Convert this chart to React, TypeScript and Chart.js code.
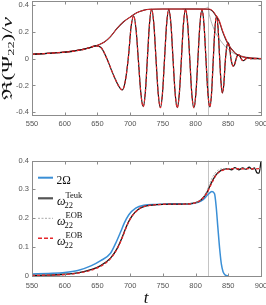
import React, { useEffect, useRef } from "react";
import { Chart, registerables } from "chart.js";
Chart.register(...registerables);

// ---------- axes ----------
const X_MIN = 550;
const X_MAX = 900;
const xTicks = [550, 600, 650, 700, 750, 800, 850, 900];
const yTicksTop = [-0.4, -0.2, 0, 0.2, 0.4];
const yTicksBottom = [0, 0.1, 0.2, 0.3, 0.4];
const tMerger = 819;

// ---------- top panel: Re(Psi22)/nu ----------
const waveT = [
  550, 570, 590, 610, 625, 637, 647, 655, 664.5, 671,
  677, 682.5, 688, 692.5, 697.5, 701.5, 705.4, 709, 712.7, 716.4,
  720, 723.2, 726.4, 729.6, 732.8, 736.2, 739.5, 742.9, 746.2, 749.4,
  752.6, 755.8, 759, 762.3, 765.5, 768.8, 772, 775.2, 778.4, 781.5,
  784.7, 787.9, 791.1, 794.2, 797.4, 800.5, 803.6, 806.7, 809.8, 812.8,
  815.8, 818.8, 821.8, 824.4, 826.9, 829.5, 832, 834.3, 836.5, 838.8,
  841, 843.2, 845.4, 847.6, 849.8, 851.8, 853.8, 855.8, 857.8, 859.7,
  861.7, 863.6, 865.5, 867.4, 869.3, 871.1, 873, 874.8, 876.5, 878.3,
  880, 885, 890, 900,
];
const waveRe = [
  0.033, 0.038, 0.044, 0.053, 0.065, 0.08, 0.095, 0.085, 0.0, -0.08,
  -0.15, -0.205, -0.233, -0.17, 0.02, 0.24, 0.318, 0.219, -0.02, -0.259,
  -0.358, -0.252, 0.005, 0.261, 0.367, 0.26, 0.0, -0.26, -0.366, -0.26,
  0.001, 0.261, 0.368, 0.261, 0.001, -0.259, -0.366, -0.259, 0.001, 0.261,
  0.368, 0.261, 0.001, -0.259, -0.366, -0.259, 0.0, 0.259, 0.366, 0.26,
  0.003, -0.254, -0.36, -0.261, -0.021, 0.219, 0.318, 0.234, 0.032, -0.171,
  -0.255, -0.19, -0.02, 0.085, 0.118, 0.09, 0.01, -0.04, -0.056, -0.042,
  -0.008, 0.022, 0.03, 0.022, 0.004, -0.011, -0.015, -0.011, -0.002, 0.005,
  0.007, 0.0, 0.001, 0.0,
];
const ampT = [550, 600, 630, 650, 660, 670, 680, 690, 700, 710, 720, 730, 750, 800, 820, 826, 831, 836, 841, 846, 851, 856, 861, 868, 877, 890, 900];
const ampTeuk = [0.033, 0.05, 0.072, 0.1, 0.122, 0.165, 0.226, 0.275, 0.31, 0.342, 0.36, 0.368, 0.37, 0.37, 0.369, 0.355, 0.32, 0.28, 0.205, 0.145, 0.098, 0.065, 0.04, 0.02, 0.009, 0.003, 0.001];
const ampEob = [0.033, 0.05, 0.072, 0.1, 0.122, 0.165, 0.226, 0.275, 0.31, 0.342, 0.36, 0.368, 0.37, 0.37, 0.37, 0.358, 0.325, 0.288, 0.213, 0.152, 0.1, 0.066, 0.04, 0.02, 0.009, 0.003, 0.001];
const ampGrayT = [780, 800, 812, 817, 819, 821, 825, 831, 836, 841, 846, 851, 858, 866, 880, 900];
const ampGray = [0.37, 0.37, 0.372, 0.378, 0.385, 0.33, 0.26, 0.19, 0.15, 0.116, 0.087, 0.064, 0.04, 0.026, 0.01, 0.002];

// ---------- bottom panel: frequencies ----------
const omegaT = [550, 575, 600, 620, 640, 655, 670, 678, 685.7, 691, 698, 708.5, 721, 740, 760, 780, 795, 805, 812, 819, 825, 829, 831.5, 834, 837, 839.5, 842, 845, 850];
const twoOmega = [0.007, 0.009, 0.012, 0.019, 0.035, 0.053, 0.079, 0.114, 0.154, 0.183, 0.212, 0.235, 0.245, 0.248, 0.249, 0.249, 0.251, 0.256, 0.265, 0.282, 0.293, 0.285, 0.24, 0.17, 0.09, 0.04, 0.015, 0.004, 0.0];
const teukT = [550, 575, 600, 620, 640, 655, 670, 680, 688, 694, 700, 708, 716, 725, 740, 760, 780, 799, 808.6, 817, 824, 831.5, 839, 849, 855, 860, 866, 872, 877, 882, 886, 890, 894, 897, 900];
const omegaTeuk = [0.002, 0.003, 0.006, 0.011, 0.022, 0.036, 0.062, 0.095, 0.135, 0.17, 0.198, 0.222, 0.236, 0.243, 0.247, 0.249, 0.249, 0.253, 0.264, 0.288, 0.322, 0.351, 0.366, 0.372, 0.368, 0.375, 0.368, 0.374, 0.37, 0.377, 0.37, 0.374, 0.357, 0.356, 0.398];
const eobT = [550, 575, 600, 620, 640, 655, 670, 680, 688, 694, 700, 708, 716, 725, 740, 760, 780, 799, 808.6, 817, 824, 831.5, 839, 849, 860, 870, 880, 890, 900];
const omegaEob = [0.002, 0.003, 0.005, 0.01, 0.02, 0.034, 0.06, 0.093, 0.133, 0.168, 0.197, 0.221, 0.236, 0.243, 0.247, 0.249, 0.249, 0.253, 0.264, 0.286, 0.318, 0.35, 0.364, 0.37, 0.372, 0.371, 0.372, 0.371, 0.372];
const grayT = [780, 799, 808.6, 814, 819, 826.5, 834, 845, 860, 880, 900];
const omegaGray = [0.249, 0.253, 0.265, 0.28, 0.305, 0.345, 0.366, 0.372, 0.372, 0.372, 0.372];

// ---------- styles ----------
const BLUE = "#3a8fd6";
const BLACK = "#151515";
const RED = "#e5262b";
const GRAY = "#a8a8a8";
const SERIF = '"Liberation Serif", "DejaVu Serif", serif';
const TICK_FONT = { family: '"Liberation Sans", Arial, sans-serif', size: 7.5 };

const pts = (xs: number[], ys: number[]) => xs.map((x, i) => ({ x, y: ys[i] }));

function line(data: any, color: string, width: number, order: number, dash: number[] = []) {
  return {
    data,
    borderColor: color,
    backgroundColor: color,
    borderWidth: width,
    borderDash: dash,
    pointRadius: 0,
    fill: false,
    cubicInterpolationMode: "monotone",
    order,
  };
}

function scalesFor(yMin: number, yMax: number, yTicks: number[], xHeight: number, xPad: number) {
  return {
    x: {
      type: "linear",
      min: X_MIN,
      max: X_MAX,
      afterBuildTicks: (s: any) => {
        s.ticks = xTicks.map((v) => ({ value: v }));
      },
      afterFit: (s: any) => {
        s.height = xHeight;
        s.paddingLeft = 0;
        s.paddingRight = 0;
      },
      grid: { display: false, drawTicks: false },
      border: { display: false },
      ticks: { font: TICK_FONT, color: "#555", padding: xPad, maxRotation: 0, minRotation: 0, autoSkip: false, callback: (v: any) => String(v) },
    },
    y: {
      type: "linear",
      min: yMin,
      max: yMax,
      afterBuildTicks: (s: any) => {
        s.ticks = yTicks.map((v) => ({ value: v }));
      },
      afterFit: (s: any) => {
        s.width = 32;
        s.paddingTop = 0;
        s.paddingBottom = 0;
      },
      grid: { display: false, drawTicks: false },
      border: { display: false },
      ticks: { font: TICK_FONT, color: "#555", padding: 3, autoSkip: false, callback: (v: any) => String(v) },
    },
  };
}

function boxPlugin(yTicks: number[]) {
  return {
    id: "box",
    beforeDatasetsDraw(chart: any) {
      const { ctx, chartArea: a, scales } = chart;
      const x = Math.round(scales.x.getPixelForValue(tMerger)) + 0.5;
      ctx.save();
      ctx.strokeStyle = "#c4c4c4";
      ctx.lineWidth = 1;
      ctx.beginPath();
      ctx.moveTo(x, a.top);
      ctx.lineTo(x, a.bottom);
      ctx.stroke();
      ctx.restore();
    },
    afterDatasetsDraw(chart: any) {
      const { ctx, chartArea: a, scales } = chart;
      const l = Math.round(a.left) + 0.5;
      const r = Math.round(a.right) + 0.5;
      const t = Math.round(a.top) + 0.5;
      const b = Math.round(a.bottom) + 0.5;
      ctx.save();
      ctx.strokeStyle = "#8c8c8c";
      ctx.lineWidth = 1;
      ctx.beginPath();
      for (const v of xTicks) {
        const px = Math.round(scales.x.getPixelForValue(v)) + 0.5;
        ctx.moveTo(px, b);
        ctx.lineTo(px, b - 3);
        ctx.moveTo(px, t);
        ctx.lineTo(px, t + 3);
      }
      for (const v of yTicks) {
        const py = Math.round(scales.y.getPixelForValue(v)) + 0.5;
        ctx.moveTo(l, py);
        ctx.lineTo(l + 3, py);
        ctx.moveTo(r, py);
        ctx.lineTo(r - 3, py);
      }
      ctx.stroke();
      ctx.strokeRect(l, t, r - l, b - t);
      ctx.restore();
    },
  };
}

const yLabelPlugin = {
  id: "ylab",
  afterDraw(chart: any) {
    const ctx = chart.ctx;
    const parts = [
      { s: "ℜ", f: `14px ${SERIF}`, dy: 0 },
      { s: "(Ψ", f: `14px ${SERIF}`, dy: 0 },
      { s: "22", f: `9px ${SERIF}`, dy: 2 },
      { s: ")/", f: `14px ${SERIF}`, dy: 0 },
      { s: "ν", f: `italic 14px ${SERIF}`, dy: 0 },
    ];
    ctx.save();
    let W = 0;
    const widths = parts.map((p) => {
      ctx.font = p.f;
      const w = ctx.measureText(p.s).width;
      W += w;
      return w;
    });
    const target = 83;
    ctx.translate(12, 58.5);
    ctx.rotate(-Math.PI / 2);
    ctx.scale(target / W, 1);
    ctx.fillStyle = "#111";
    ctx.textBaseline = "alphabetic";
    ctx.textAlign = "left";
    let x = -W / 2;
    parts.forEach((p, i) => {
      ctx.font = p.f;
      ctx.fillText(p.s, x, p.dy);
      x += widths[i];
    });
    ctx.restore();
  },
};

const legendItems = [
  { y: 27.7, color: BLUE, width: 2, dash: [] as number[], main: "2Ω", sup: "" },
  { y: 48.3, color: "#555", width: 2.2, dash: [] as number[], main: "ω", sup: "Teuk" },
  { y: 68.3, color: GRAY, width: 1, dash: [2, 1.5], main: "ω", sup: "EOB" },
  { y: 88.3, color: RED, width: 1.5, dash: [4, 2], main: "ω", sup: "EOB" },
];

const bottomDecorPlugin = {
  id: "bdecor",
  afterDraw(chart: any) {
    const ctx = chart.ctx;
    ctx.save();
    for (const it of legendItems) {
      ctx.strokeStyle = it.color;
      ctx.lineWidth = it.width;
      ctx.setLineDash(it.dash);
      ctx.beginPath();
      ctx.moveTo(38, it.y);
      ctx.lineTo(53, it.y);
      ctx.stroke();
      ctx.setLineDash([]);
      ctx.fillStyle = "#111";
      ctx.textAlign = "left";
      ctx.textBaseline = "alphabetic";
      if (!it.sup) {
        ctx.font = `11.5px ${SERIF}`;
        ctx.fillText(it.main, 56.5, it.y + 5.8);
      } else {
        ctx.font = `italic 12px ${SERIF}`;
        ctx.fillText(it.main, 57, it.y + 7);
        ctx.font = `8.5px ${SERIF}`;
        ctx.fillText("22", 64.5, it.y + 9.5);
        ctx.fillText(it.sup, 65.5, it.y - 0.5);
      }
    }
    ctx.font = `italic 17px ${SERIF}`;
    ctx.textAlign = "center";
    ctx.fillStyle = "#111";
    ctx.fillText("t", 146, 153);
    ctx.restore();
  },
};

export default function App() {
  const topRef = useRef<HTMLCanvasElement>(null);
  const botRef = useRef<HTMLCanvasElement>(null);

  useEffect(() => {
    const common = {
      animation: false,
      responsive: false,
      maintainAspectRatio: false,
      events: [] as any[],
      plugins: { legend: { display: false }, tooltip: { enabled: false } },
    };

    const top = new Chart(topRef.current as HTMLCanvasElement, {
      type: "line",
      data: {
        datasets: [
          line(pts(ampGrayT, ampGray), GRAY, 0.9, 4),
          line(pts(ampT, ampTeuk), BLACK, 1.1, 3),
          line(pts(ampT, ampEob), RED, 1, 2),
          line(pts(waveT, waveRe), BLACK, 1.2, 1),
          line(pts(waveT, waveRe), RED, 1.2, 0, [3, 2]),
        ],
      } as any,
      options: {
        ...common,
        layout: { padding: { left: 0, right: 5, top: 1, bottom: 0 } },
        scales: scalesFor(-0.42, 0.43, yTicksTop, 20, 4),
      } as any,
      plugins: [boxPlugin(yTicksTop), yLabelPlugin],
    });

    const bot = new Chart(botRef.current as HTMLCanvasElement, {
      type: "line",
      data: {
        datasets: [
          line(pts(omegaT, twoOmega), BLUE, 1.5, 3),
          line(pts(teukT, omegaTeuk), BLACK, 1.3, 2),
          line(pts(grayT, omegaGray), GRAY, 0.9, 1, [2, 1.5]),
          line(pts(eobT, omegaEob), RED, 1.3, 0, [3, 2]),
        ],
      } as any,
      options: {
        ...common,
        layout: { padding: { left: 0, right: 5, top: 10.5, bottom: 0 } },
        scales: scalesFor(0, 0.4, yTicksBottom, 29, 5),
      } as any,
      plugins: [boxPlugin(yTicksBottom), bottomDecorPlugin],
    });

    return () => {
      top.destroy();
      bot.destroy();
    };
  }, []);

  return (
    <div style={{ position: "absolute", left: 0, top: 0, width: 266, height: 305, background: "#fff" }}>
      <canvas ref={topRef} width={266} height={135} style={{ position: "absolute", left: 0, top: 0 }} />
      <canvas ref={botRef} width={266} height={155} style={{ position: "absolute", left: 0, top: 150 }} />
    </div>
  );
}
